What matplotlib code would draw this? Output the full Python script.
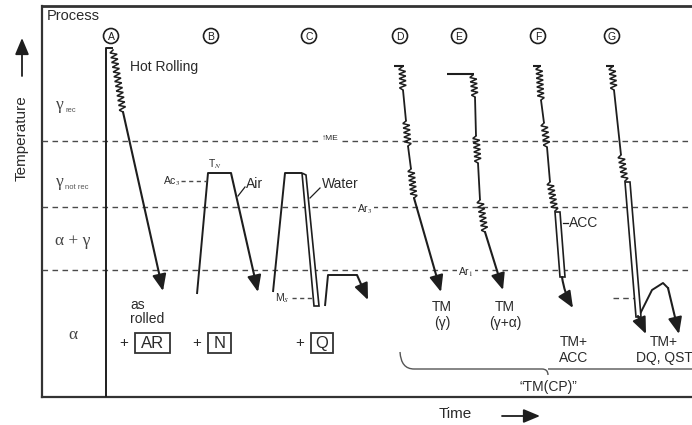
import matplotlib
matplotlib.use("Agg")
import matplotlib.pyplot as plt
import numpy as np
from matplotlib.patches import Polygon, Circle, Rectangle, PathPatch
from matplotlib.path import Path

plt.rcParams["font.family"] = ["Liberation Sans", "DejaVu Sans"]
plt.rcParams["mathtext.fontset"] = "stix"

INK = "#1e1e1e"
TXT = "#2a2a2a"
DASH = "#4a4a4a"

# schematic coordinates (pixel space of the reference, y grows downward)
boundary_y = [141, 207, 270]          # gamma_rec / not-rec / Ar3 / Ar1
phase_main = ["\u03b3", "\u03b3", "\u03b1 + \u03b3", "\u03b1"]
phase_sub = ["rec", "not rec", "", ""]
phase_label_y = [107, 184, 241, 335]

process_ids = ["A", "B", "C", "D", "E", "F", "G"]
process_x = [111, 211, 309, 400, 459, 538, 612]

# A: reheating + hot rolling + air cooling
A_heat = [(106, 397), (106, 48), (113, 48)]
A_roll = [((113, 50), (123, 112))]
A_cool = [(123, 112), (163, 291)]

# B: normalising
B_heat = [(197, 294), (208, 173), (231, 173)]
B_cool = [(231, 173), (258, 292)]

# C: quench + temper
C_heat = [(273, 292), (285, 173), (302, 173)]
C_water = [(302, 173), (306, 175), (319, 306), (314, 306)]
C_temper = [(325, 306), (328, 275), (357, 275)]
C_cool = [(357, 275), (368, 300)]

# D, E, F, G: thermomechanical routes
D_tick = [(394, 66), (404, 66)]
D_line = [(402, 67), (403, 90), (406, 121), (408, 146), (411, 169), (414, 198)]
D_roll = [((402, 67), (403, 90)), ((406, 121), (408, 146)), ((411, 169), (414, 198))]
D_cool = [(414, 198), (441, 292)]

E_tick = [(447, 74), (474, 74)]
E_line = [(473, 75), (475, 97), (476, 136), (478, 163), (480, 200), (485, 232)]
E_roll = [((473, 75), (475, 97)), ((476, 136), (478, 163)), ((480, 200), (485, 232))]
E_cool = [(485, 232), (503, 290)]

F_tick = [(533, 66), (541, 66)]
F_line = [(539, 67), (541, 100), (544, 123), (547, 147), (550, 182), (555, 211)]
F_roll = [((539, 67), (541, 100)), ((544, 123), (547, 147)), ((550, 182), (555, 211))]
F_acc = [(555, 212), (560, 212), (565, 277), (560, 277)]
F_cool = [(562, 277), (573, 308)]

G_tick = [(606, 66), (614, 66)]
G_line = [(612, 67), (614, 90), (621, 155), (625, 181)]
G_roll = [((612, 67), (614, 90)), ((621, 155), (625, 181))]
G_dq = [(625, 182), (630, 182), (641, 317), (636, 317)]
G_dq_arrow = [(638, 316), (646, 334)]
G_qst = [(640, 314), (652, 290), (663, 283), (668, 288), (679, 334)]

route_text = [("TM\n(\u03b3)", 442, 315),
              ("TM\n(\u03b3+\u03b1)", 505, 315),
              ("TM+\nACC", 574, 350),
              ("TM+\nDQ, QST", 664, 350)]


def zigzag(ax, p0, p1, teeth=None, amp=3.4, lw=1.1):
    p0, p1 = np.array(p0, float), np.array(p1, float)
    d = p1 - p0
    n = np.hypot(*d)
    if teeth is None:
        teeth = max(4, int(n / 2.2))
    u = d / n
    perp = np.array([-u[1], u[0]])
    pts = [p0]
    for k in range(1, teeth):
        s = k / teeth
        sign = 1 if k % 2 else -1
        pts.append(p0 + d * s + perp * amp * sign)
    pts.append(p1)
    pts = np.array(pts)
    ax.plot(pts[:, 0], pts[:, 1], color=INK, lw=lw, solid_joinstyle="miter")


def line(ax, pts, lw=1.4):
    pts = np.array(pts)
    ax.plot(pts[:, 0], pts[:, 1], color=INK, lw=lw, solid_capstyle="butt")


def arrow(ax, p0, p1, rad=0.0, lw=1.5):
    ax.annotate("", xy=p1, xytext=p0,
                arrowprops=dict(arrowstyle="-|>,head_length=1.0,head_width=0.42",
                                color=INK, lw=lw, shrinkA=0, shrinkB=0,
                                connectionstyle=f"arc3,rad={rad}"))


def double_bar(ax, pts):
    ax.add_patch(Polygon(pts, closed=True, facecolor="white",
                         edgecolor=INK, lw=1.2, zorder=3))


fig = plt.figure(figsize=(6.92, 4.25), dpi=100)
ax = fig.add_axes([0, 0, 1, 1])
ax.set_xlim(0, 692)
ax.set_ylim(425, 0)
ax.axis("off")

# frame
ax.plot([42, 692], [6, 6], color="#333333", lw=2.0)
ax.plot([42, 42], [6, 397], color="#333333", lw=1.6)
ax.plot([42, 692], [397, 397], color="#333333", lw=1.6)

for y in boundary_y:
    ax.plot([42, 692], [y, y], color=DASH, lw=1.0, dashes=(4, 3.2))

ax.text(47, 16, "Process", fontsize=10.5, color=TXT, va="center", ha="left")
for main, sub, y in zip(phase_main, phase_sub, phase_label_y):
    if sub:
        ax.text(60, y - 2, main, fontsize=12.5, color="#444444", ha="center",
                va="center", family="Liberation Serif")
        ax.text(65, y + 3, sub, fontsize=5.5, color="#555555", ha="left", va="center")
    else:
        ax.text(73, y, main, fontsize=12.5, color="#444444", ha="center",
                va="center", family="Liberation Serif")

ax.text(22, 138, "Temperature", fontsize=11, color=TXT, rotation=90,
        ha="center", va="center")
arrow(ax, (22, 76), (22, 38), lw=1.3)
ax.text(455, 414, "Time", fontsize=11, color=TXT, ha="center", va="center")
arrow(ax, (502, 416), (540, 416), lw=1.3)

for pid, x in zip(process_ids, process_x):
    ax.add_patch(Circle((x, 36), 7.5, fill=False, ec=INK, lw=1.2))
    ax.text(x, 36.5, pid, fontsize=7.5, ha="center", va="center", color=INK)

# process A
line(ax, A_heat)
for p0, p1 in A_roll:
    zigzag(ax, p0, p1, teeth=26)
arrow(ax, *A_cool)
ax.text(130, 67, "Hot Rolling", fontsize=10, color=TXT, va="center")
ax.text(130, 312, "as\nrolled", fontsize=10, color=TXT, va="center",
        linespacing=1.05)

# process B
line(ax, B_heat)
arrow(ax, *B_cool)
ax.plot([181, 206], [181, 181], color=DASH, lw=1.0, dashes=(3, 2.5))
ax.text(180, 181, r"Ac$_3$", fontsize=7.5, color=TXT, ha="right", va="center")
ax.text(215, 164, r"T$_N$", fontsize=7.5, color=TXT, ha="center", va="center")
ax.plot([238, 245], [196, 187], color=INK, lw=0.9)
ax.text(246, 184, "Air", fontsize=10, color=TXT, va="center")

# process C
line(ax, C_heat)
double_bar(ax, C_water)
line(ax, C_temper)
arrow(ax, *C_cool)
ax.plot([310, 320], [198, 188], color=INK, lw=0.9)
ax.text(322, 184, "Water", fontsize=10, color=TXT, va="center")
ax.plot([292, 313], [298, 298], color=DASH, lw=1.0, dashes=(3, 2.5))
ax.text(290, 298, r"M$_S$", fontsize=7.5, color=TXT, ha="right", va="center")

# small boundary labels
ax.text(330, 139, "\u2191ME", fontsize=6, color=TXT, ha="center", va="center",
        bbox=dict(fc="white", ec="none", pad=0.5))
ax.text(365, 209, r"Ar$_3$", fontsize=7.5, color=TXT, ha="center", va="center",
        bbox=dict(fc="white", ec="none", pad=1))
ax.text(466, 272, r"Ar$_1$", fontsize=7.5, color=TXT, ha="center", va="center",
        bbox=dict(fc="white", ec="none", pad=1))

# D - G
for tick, pts, rolls in [(D_tick, D_line, D_roll), (E_tick, E_line, E_roll),
                         (F_tick, F_line, F_roll), (G_tick, G_line, G_roll)]:
    line(ax, tick, lw=1.5)
    for i in range(0, len(pts) - 1):
        seg = (pts[i], pts[i + 1])
        if seg in rolls:
            zigzag(ax, *seg)
        else:
            line(ax, seg, lw=1.3)
arrow(ax, *D_cool)
arrow(ax, *E_cool)
double_bar(ax, F_acc)
arrow(ax, *F_cool, rad=0.1)
ax.plot([563, 568], [223, 223], color=INK, lw=0.9)
ax.text(569, 223, "ACC", fontsize=10, color=TXT, va="center")
ax.plot([613, 640], [298, 298], color=DASH, lw=1.0, dashes=(4, 3))
double_bar(ax, G_dq)
arrow(ax, *G_dq_arrow)
qst = np.array(G_qst)
ax.plot(qst[:-1, 0], qst[:-1, 1], color=INK, lw=1.4)
arrow(ax, G_qst[-2], G_qst[-1])

# result labels
for lab, x, y in [("+", 124, 343), ("+", 197, 343), ("+", 300, 343)]:
    ax.text(x, y, lab, fontsize=11, color=TXT, ha="center", va="center")
for lab, x0, w in [("AR", 135, 35), ("N", 208, 23), ("Q", 311, 22)]:
    ax.add_patch(Rectangle((x0, 333), w, 20, fill=False, ec="#333333", lw=1.3))
    ax.text(x0 + w / 2, 343.5, lab, fontsize=12, color=TXT, ha="center", va="center")

for lab, x, y in route_text:
    ax.text(x, y, lab, fontsize=10, color=TXT, ha="center", va="center",
            linespacing=1.15)

# brace under TM routes
brace = Path([(400, 352), (401, 369), (414, 369), (542, 369), (548, 369), (548, 375),
              (548, 369), (554, 369), (692, 369)],
             [Path.MOVETO, Path.CURVE3, Path.CURVE3, Path.LINETO, Path.CURVE3,
              Path.CURVE3, Path.MOVETO, Path.LINETO, Path.LINETO])
ax.add_patch(PathPatch(brace, fill=False, ec="#555555", lw=1.0))
ax.text(548, 387, "\u201cTM(CP)\u201d", fontsize=10, color=TXT, ha="center", va="center")

fig.savefig("out.png", dpi=100)
